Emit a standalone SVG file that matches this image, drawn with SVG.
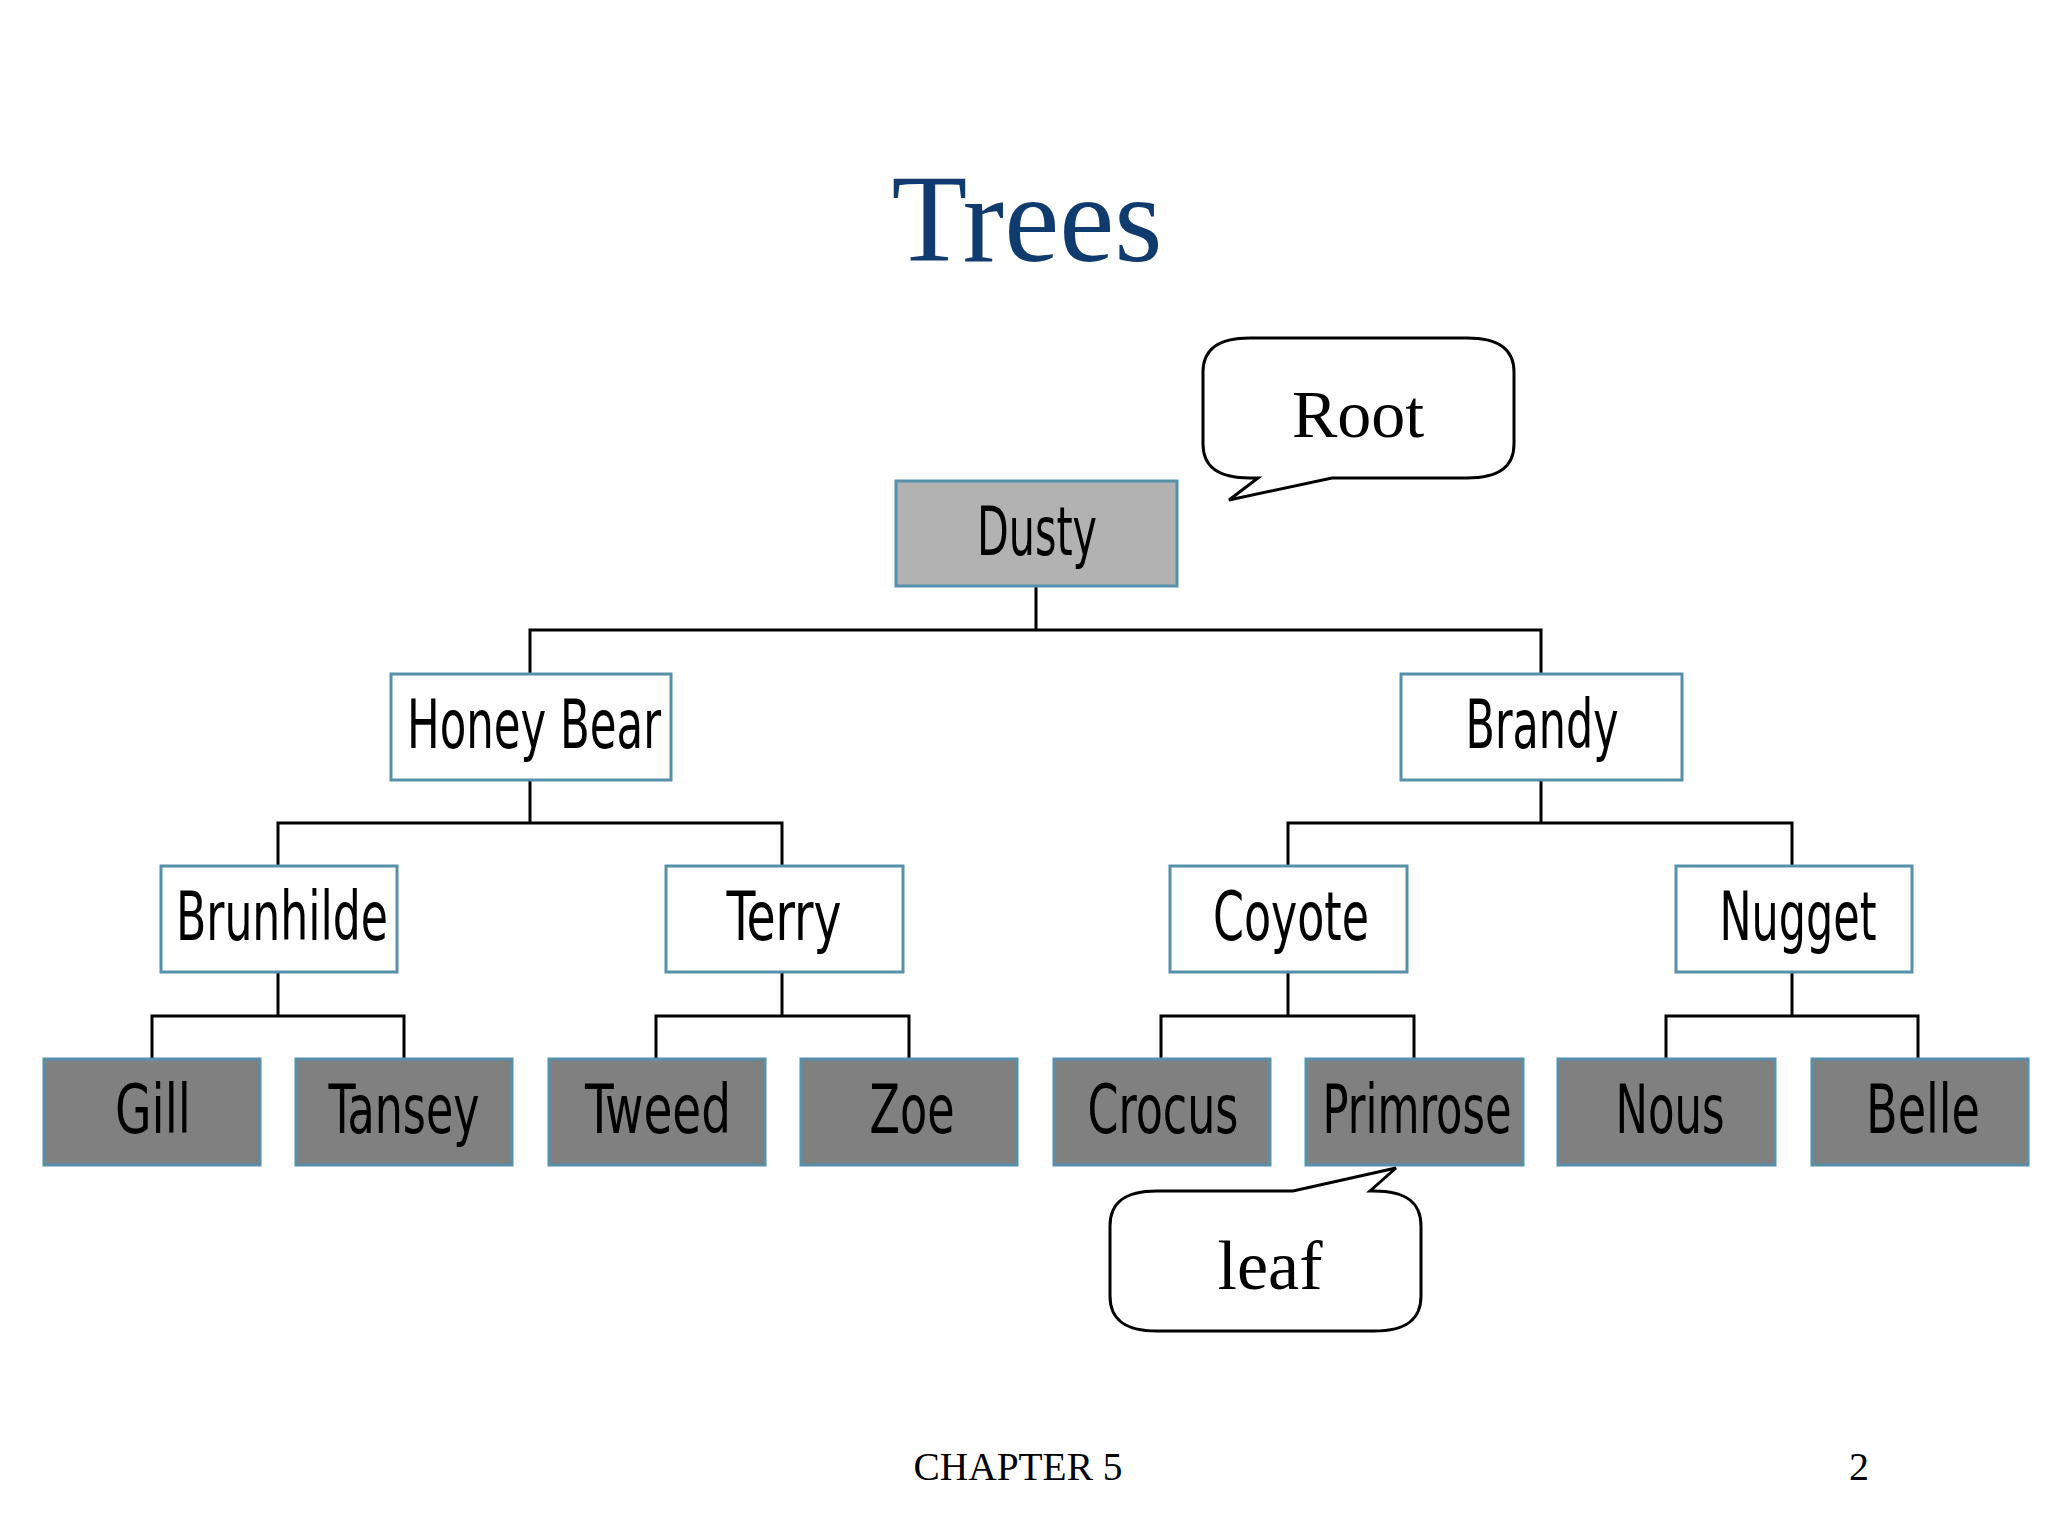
<svg xmlns="http://www.w3.org/2000/svg" width="2048" height="1536" viewBox="0 0 2048 1536">
<style>
.box{stroke:#5690ab;stroke-width:3}
.root{fill:#b2b2b2}
.inner{fill:#ffffff}
.leafbox{fill:#808080}
.lbl{font-family:"DejaVu Sans Condensed","DejaVu Sans",sans-serif;font-size:68px;fill:#000;text-anchor:middle}
.conn{fill:none;stroke:#000;stroke-width:3}
.callout{fill:#fff;stroke:#000;stroke-width:3;stroke-linejoin:miter}
.serif{font-family:"Liberation Serif","Times New Roman",serif;fill:#000;text-anchor:middle}
</style>
<rect width="2048" height="1536" fill="#fff"/>
<text x="1027" y="261" class="serif" style="font-size:124px;fill:#0f3b6f">Trees</text>

<g id="connectors">
<path class="conn" d="M1036,586 V630 M530,674 V630 H1541 V674"/>
<path class="conn" d="M530,780 V823 M278,866 V823 H782 V866"/>
<path class="conn" d="M1541,780 V823 M1288,866 V823 H1792 V866"/>
<path class="conn" d="M278,972 V1016 M152,1059 V1016 H404 V1059"/>
<path class="conn" d="M782,972 V1016 M656,1059 V1016 H909 V1059"/>
<path class="conn" d="M1288,972 V1016 M1161,1059 V1016 H1414 V1059"/>
<path class="conn" d="M1792,972 V1016 M1666,1059 V1016 H1918 V1059"/>
</g>

<g id="node-dusty"><rect class="box root" x="896" y="481" width="281" height="105"/><text class="lbl" x="1037" y="555" textLength="120" lengthAdjust="spacingAndGlyphs">Dusty</text></g>
<g id="node-honeybear"><rect class="box inner" x="391" y="674" width="280" height="106"/><text class="lbl" x="534" y="748" textLength="254" lengthAdjust="spacingAndGlyphs">Honey Bear</text></g>
<g id="node-brandy"><rect class="box inner" x="1401" y="674" width="281" height="106"/><text class="lbl" x="1542" y="748" textLength="153" lengthAdjust="spacingAndGlyphs">Brandy</text></g>
<g id="node-brunhilde"><rect class="box inner" x="161" y="866" width="236" height="106"/><text class="lbl" x="282" y="940" textLength="212" lengthAdjust="spacingAndGlyphs">Brunhilde</text></g>
<g id="node-terry"><rect class="box inner" x="666" y="866" width="237" height="106"/><text class="lbl" x="784" y="940" textLength="115" lengthAdjust="spacingAndGlyphs">Terry</text></g>
<g id="node-coyote"><rect class="box inner" x="1170" y="866" width="237" height="106"/><text class="lbl" x="1291" y="940" textLength="156" lengthAdjust="spacingAndGlyphs">Coyote</text></g>
<g id="node-nugget"><rect class="box inner" x="1676" y="866" width="236" height="106"/><text class="lbl" x="1798" y="940" textLength="157" lengthAdjust="spacingAndGlyphs">Nugget</text></g>

<g id="node-gill"><rect class="box leafbox" x="44" y="1059" width="216" height="106"/><text class="lbl" x="153" y="1133" textLength="76" lengthAdjust="spacingAndGlyphs">Gill</text></g>
<g id="node-tansey"><rect class="box leafbox" x="296" y="1059" width="216" height="106"/><text class="lbl" x="404" y="1133" textLength="151" lengthAdjust="spacingAndGlyphs">Tansey</text></g>
<g id="node-tweed"><rect class="box leafbox" x="549" y="1059" width="216" height="106"/><text class="lbl" x="658" y="1133" textLength="146" lengthAdjust="spacingAndGlyphs">Tweed</text></g>
<g id="node-zoe"><rect class="box leafbox" x="801" y="1059" width="216" height="106"/><text class="lbl" x="912" y="1133" textLength="85" lengthAdjust="spacingAndGlyphs">Zoe</text></g>
<g id="node-crocus"><rect class="box leafbox" x="1054" y="1059" width="216" height="106"/><text class="lbl" x="1163" y="1133" textLength="151" lengthAdjust="spacingAndGlyphs">Crocus</text></g>
<g id="node-primrose"><rect class="box leafbox" x="1306" y="1059" width="217" height="106"/><text class="lbl" x="1417" y="1133" textLength="189" lengthAdjust="spacingAndGlyphs">Primrose</text></g>
<g id="node-nous"><rect class="box leafbox" x="1558" y="1059" width="217" height="106"/><text class="lbl" x="1670" y="1133" textLength="109" lengthAdjust="spacingAndGlyphs">Nous</text></g>
<g id="node-belle"><rect class="box leafbox" x="1812" y="1059" width="216" height="106"/><text class="lbl" x="1923" y="1133" textLength="114" lengthAdjust="spacingAndGlyphs">Belle</text></g>

<g id="callout-root">
<path class="callout" d="M1250,338 H1467 C1500,338 1514,350 1514,372 V444 C1514,466 1500,478 1467,478 H1332 L1229,500 L1258,478 H1250 C1217,478 1203,466 1203,444 V372 C1203,350 1217,338 1250,338 Z"/>
<text class="serif" x="1358" y="437" style="font-size:68px">Root</text>
</g>
<g id="callout-leaf">
<path class="callout" d="M1157,1191 H1293 L1396,1168 L1370,1191 H1374 C1407,1191 1421,1203 1421,1226 V1296 C1421,1319 1407,1331 1374,1331 H1157 C1124,1331 1110,1319 1110,1296 V1226 C1110,1203 1124,1191 1157,1191 Z"/>
<text class="serif" x="1270" y="1289" style="font-size:70px">leaf</text>
</g>

<text class="serif" x="1018" y="1480" style="font-size:40px" textLength="209" lengthAdjust="spacingAndGlyphs">CHAPTER 5</text>
<text class="serif" x="1859" y="1480" style="font-size:40px">2</text>
</svg>
